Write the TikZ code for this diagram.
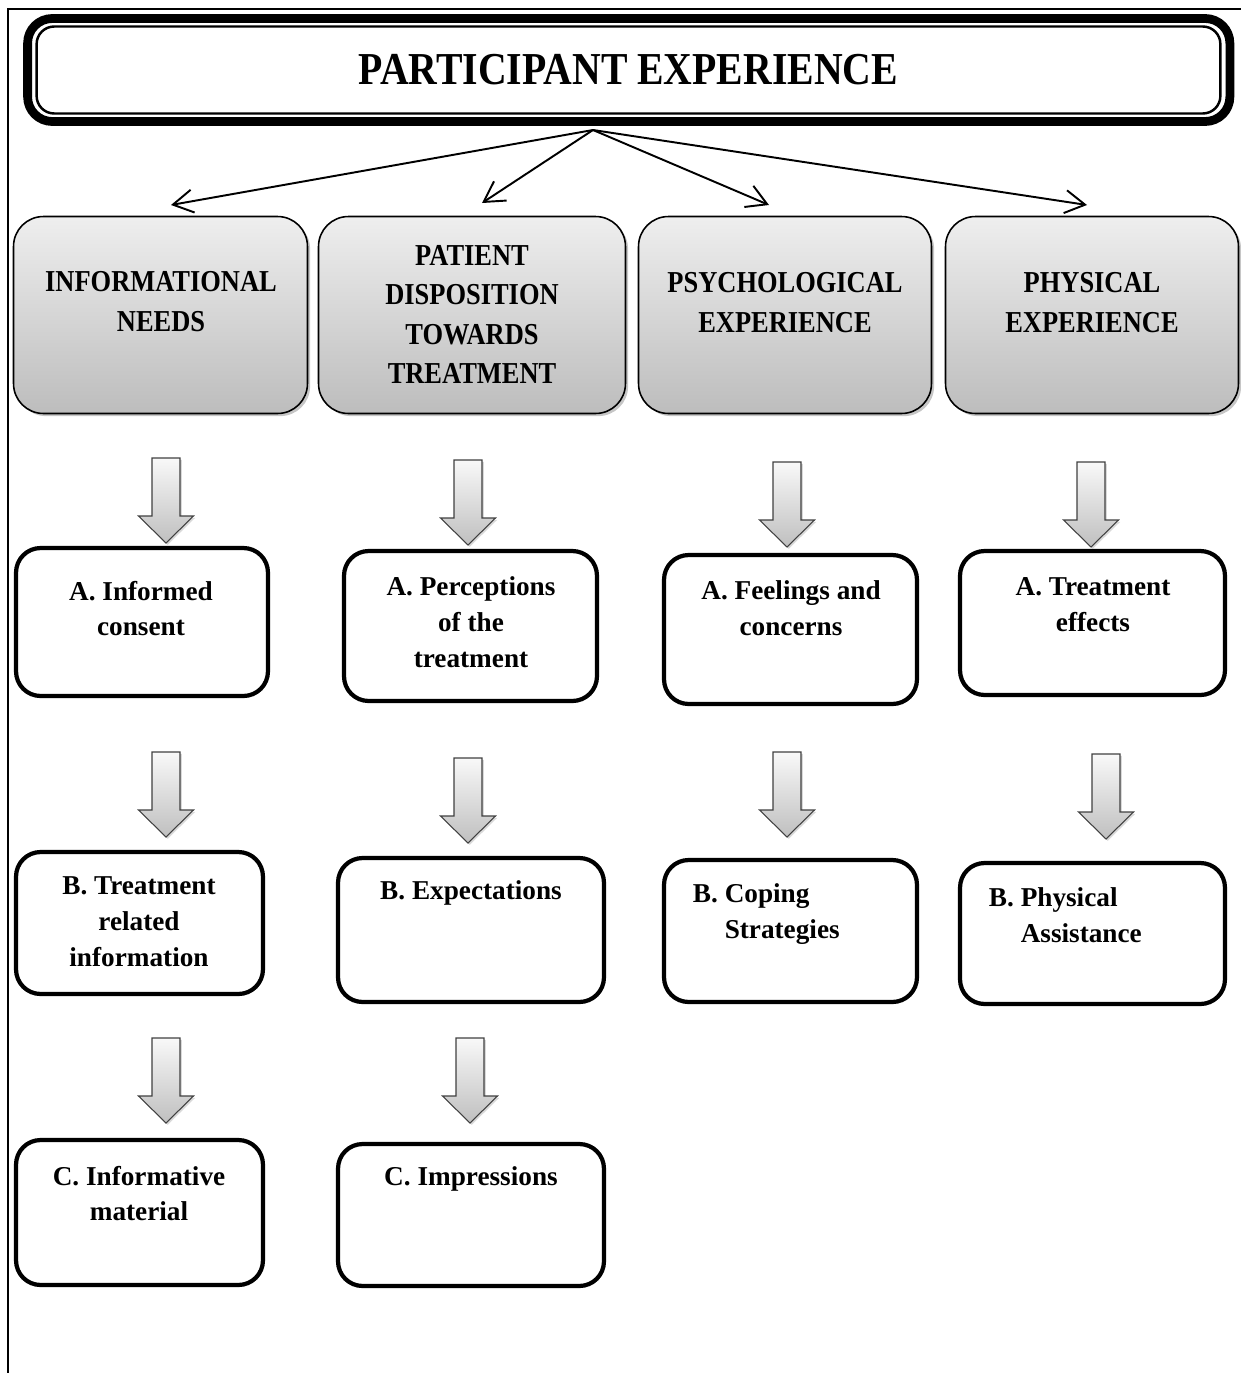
\documentclass[tikz,border=0pt]{standalone}
\usepackage{fontspec}
\setmainfont{Liberation Serif}
\newfontfamily\headfont[FakeStretch=0.87]{Liberation Serif}
\usetikzlibrary{arrows.meta, shadows}

% shaded block arrow pointing down, #1 = top centre
\newcommand{\bigdown}[1]{%
    \shade[blockarrow] (#1) ++(-14,0) -- ++(0,58) -- ++(-13.5,0) -- ++(27.5,27)
        -- ++(27.5,-27) -- ++(-13.5,0) -- ++(0,-58) -- cycle;}

\begin{document}
\begin{tikzpicture}[
            x = 0.02cm, y = -0.02cm, % one unit = one pixel of the sketch
            > = {Straight Barb[length=4mm, width=4.6mm]}, % arrow head style
            line width = 1.1pt % line style
        ]

        \tikzstyle{theme}=[
        draw = black,
        line width = 0.9pt,
        rounded corners = 17pt,
        top color = gray!13,
        bottom color = gray!52,
        drop shadow = {shadow xshift=1.5pt, shadow yshift=-1.5pt, opacity=0.45},
        minimum height = 3.94cm,
        inner sep = 0pt
        ]
        \tikzstyle{themetext}=[align=center, inner sep=0pt,
        font=\headfont\bfseries\fontsize{17.3}{22.4}\selectfont]
        \tikzstyle{item}=[
        draw = black,
        line width = 2.4pt,
        rounded corners = 14pt,
        fill = white,
        inner sep = 0pt
        ]
        \tikzstyle{itemtext}=[align=center, inner sep=0pt,
        font=\bfseries\fontsize{15.5}{20.4}\selectfont]
        \tikzstyle{blockarrow}=[draw=black!75, line width=0.6pt, top color=gray!5,
        bottom color=gray!50, drop shadow={opacity=0.3, shadow xshift=1pt, shadow yshift=-1pt}]

        \useasboundingbox (0,0) rectangle (1241,1373);
        \draw (8,1373) -- (8,9) -- (1241,9);

        % title
        \node[draw, line width=5pt, rounded corners=14pt, minimum width=24.05cm,
            minimum height=2.06cm] (title) at (628.75,70) {};
        \node[draw, line width=1.4pt, rounded corners=10pt, minimum width=23.68cm,
            minimum height=1.74cm, font=\headfont\bfseries\fontsize{26}{30}\selectfont]
            (titlein) at (628.5,70) {PARTICIPANT EXPERIENCE};

        % themes
        \node[theme, minimum width=5.88cm] (inf) at (160.5,315) {};
        \node[theme, minimum width=6.14cm] (dis) at (472,315) {};
        \node[theme, minimum width=5.86cm] (psy) at (785,315) {};
        \node[theme, minimum width=5.86cm] (phy) at (1092,315) {};
        \node[themetext] (infT) at (161,301.5) {INFORMATIONAL\\NEEDS};
        \node[themetext] (disT) at (472,314.5) {PATIENT\\DISPOSITION\\TOWARDS\\TREATMENT};
        \node[themetext] (psyT) at (785,302.5) {PSYCHOLOGICAL\\EXPERIENCE};
        \node[themetext] (phyT) at (1092,302.5) {PHYSICAL\\EXPERIENCE};

        \coordinate (apex) at (593,130);
        \coordinate (n1) at (171,205);
        \coordinate (n2) at (482,203);
        \coordinate (n3) at (769,205);
        \coordinate (n4) at (1087,205);
        \foreach \n in {n1,n2,n3,n4}
            \draw[->] (apex) -- (\n);

        % sub-themes
        \node[item, minimum width=5.04cm, minimum height=2.96cm] (infA) at (142,622) {};
        \node[item, minimum width=4.94cm, minimum height=2.84cm] (infB) at (139.5,923) {};
        \node[item, minimum width=4.94cm, minimum height=2.90cm] (infC) at (139.5,1212.5) {};
        \node[item, minimum width=5.06cm, minimum height=3.00cm] (disA) at (470.5,626) {};
        \node[item, minimum width=5.32cm, minimum height=2.88cm] (disB) at (471,930) {};
        \node[item, minimum width=5.32cm, minimum height=2.84cm] (disC) at (471,1215) {};
        \node[item, minimum width=5.06cm, minimum height=2.98cm] (psyA) at (790.5,629.5) {};
        \node[item, minimum width=5.06cm, minimum height=2.84cm] (psyB) at (790.5,931) {};
        \node[item, minimum width=5.30cm, minimum height=2.88cm] (phyA) at (1092.5,623) {};
        \node[item, minimum width=5.30cm, minimum height=2.82cm] (phyB) at (1092.5,933.5) {};

        \node[itemtext] (infAT) at (141,608.5) {A. Informed\\consent};
        \node[itemtext] (infBT) at (139,922) {B. Treatment\\related\\information};
        \node[itemtext] (infCT) at (139,1193.5) {C. Informative\\material};
        \node[itemtext] (disAT) at (471,622.5) {A. Perceptions\\of the\\treatment};
        \node[itemtext] (disBT) at (471,893) {B. Expectations};
        \node[itemtext] (disCT) at (471,1179) {C. Impressions};
        \node[itemtext] (psyAT) at (791,608) {A. Feelings and\\concerns};
        \node[itemtext, align=left, anchor=west] (psyBT) at (692,914)
            {B. Coping\\\hphantom{B. }Strategies};
        \node[itemtext] (phyAT) at (1093,605) {A. Treatment\\effects};
        \node[itemtext, align=left, anchor=west] (phyBT) at (988,915.5)
            {B. Physical\\\hphantom{B. }Assistance};

        % block arrows
        \foreach \name/\x/\y in {d1/166/458, d2/468/460, d3/787/462, d4/1091/462,
                                 e1/166/752, e2/468/758, e3/787/752, e4/1106/754,
                                 f1/166/1038, f2/470/1038}
        {
            \coordinate (\name) at (\x,\y);
            \bigdown{\name}
        }
    \end{tikzpicture}
\end{document}
